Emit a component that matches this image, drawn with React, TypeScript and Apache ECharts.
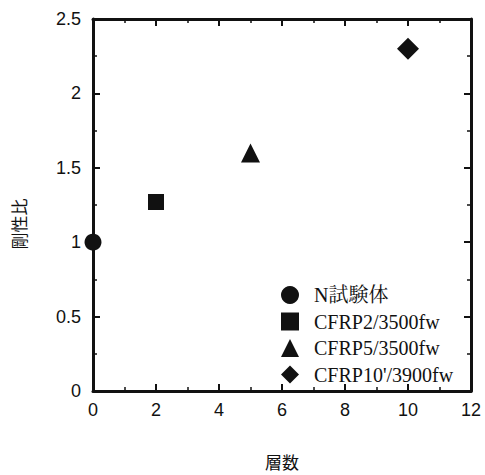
import React, { useEffect, useRef } from "react";
import * as echarts from "echarts";

const seriesNames = ["N試験体", "CFRP2/3500fw", "CFRP5/3500fw", "CFRP10'/3900fw"];
const layers = [0, 2, 5, 10];
const stiffnessRatio = [1.0, 1.27, 1.6, 2.3];
const symbols = ["circle", "rect", "triangle", "diamond"];
const symbolSizes = [17, 16, 19, 22];

const xName = "層数";
const yName = "剛性比";

export default function App() {
  const ref = useRef<HTMLDivElement>(null);
  useEffect(() => {
    if (!ref.current) return;
    const chart = echarts.init(ref.current, undefined, { renderer: "svg" });
    const axisFont = "'Liberation Sans', Arial, sans-serif";
    const lineStyle = { color: "#111", width: 3 };
    const baseAxis = {
      axisLine: { show: true, onZero: false, lineStyle },
      axisTick: { show: true, inside: true, length: 7, lineStyle: { color: "#111", width: 2 } },
      minorTick: { show: true, splitNumber: 2, length: 4, lineStyle: { color: "#111", width: 1.5 } },
      splitLine: { show: false },
    };
    chart.setOption({
      animation: false,
      backgroundColor: "#fff",
      grid: { left: 93, top: 19, right: 14, bottom: 80, containLabel: false },
      xAxis: [
        {
          ...baseAxis,
          type: "value",
          min: 0,
          max: 12,
          interval: 2,
          position: "bottom",
          name: xName,
          nameLocation: "middle",
          nameGap: 62,
          nameTextStyle: { color: "#111", fontSize: 17, fontFamily: "'Noto Sans CJK JP', sans-serif" },
          axisLabel: { color: "#111", fontSize: 18, margin: 10, fontFamily: axisFont },
        },
        {
          ...baseAxis,
          type: "value",
          min: 0,
          max: 12,
          interval: 2,
          position: "top",
          axisLabel: { show: false },
        },
      ],
      yAxis: [
        {
          ...baseAxis,
          type: "value",
          min: 0,
          max: 2.5,
          interval: 0.5,
          position: "left",
          name: yName,
          nameLocation: "middle",
          nameGap: 66,
          nameRotate: 90,
          nameTextStyle: {
            color: "#111",
            fontSize: 17,
            fontFamily: "'Noto Sans CJK JP', sans-serif",
            padding: [0, 38, 0, 0],
          },
          axisLabel: { color: "#111", fontSize: 18, margin: 12, fontFamily: axisFont },
        },
        {
          ...baseAxis,
          type: "value",
          min: 0,
          max: 2.5,
          interval: 0.5,
          position: "right",
          axisLabel: { show: false },
        },
      ],
      legend: {
        orient: "vertical",
        left: 276,
        top: 280,
        itemWidth: 18,
        itemHeight: 18,
        itemGap: 6.5,
        textStyle: {
          color: "#111",
          fontSize: 20,
          lineHeight: 20,
          fontFamily: "'Liberation Serif', 'Noto Serif CJK JP', serif",
          padding: [0, 0, 0, 10],
        },
        data: seriesNames,
      },
      series: seriesNames.map((name, i) => ({
        name,
        type: "scatter",
        symbol: symbols[i],
        symbolSize: symbolSizes[i],
        itemStyle: { color: "#111", opacity: 1 },
        data: [[layers[i], stiffnessRatio[i]]],
        clip: false,
        z: 10,
      })),
    });
    return () => chart.dispose();
  }, []);
  return (
    <div
      ref={ref}
      style={{ position: "fixed", left: 0, top: 0, width: 485, height: 475 }}
    />
  );
}
